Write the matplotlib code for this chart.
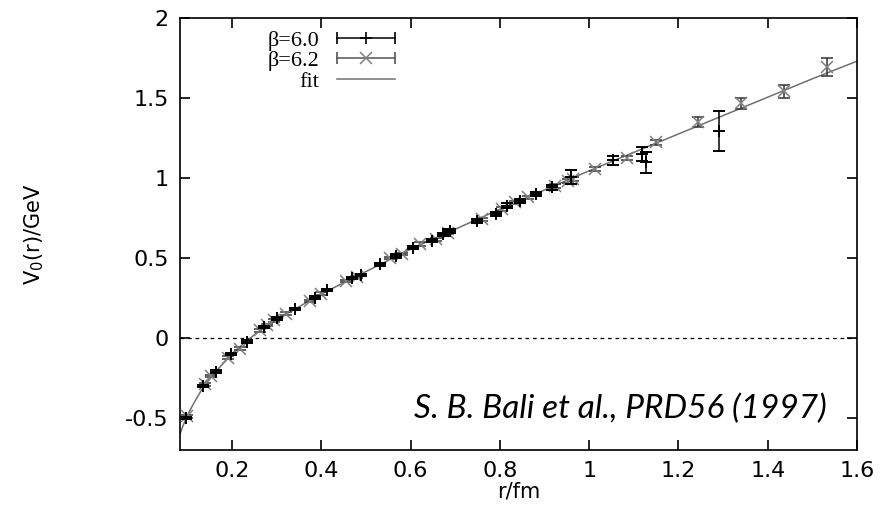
import numpy as np
import matplotlib
matplotlib.use("Agg")
import matplotlib.pyplot as plt
from matplotlib.lines import Line2D
from matplotlib.legend_handler import HandlerLine2D, HandlerTuple
from matplotlib.ticker import FormatStrFormatter

plt.rcParams["axes.unicode_minus"] = False
plt.rcParams["mathtext.default"] = "regular"

# beta = 6.0 points (r in fm, V0 in GeV)
r_b60 = [0.097, 0.135, 0.164, 0.198, 0.233, 0.271, 0.301, 0.340, 0.385, 0.412,
         0.468, 0.490, 0.531, 0.568, 0.606, 0.647, 0.673, 0.688, 0.748, 0.792,
         0.815, 0.845, 0.882, 0.916, 0.960, 1.054, 1.119, 1.128, 1.291]
v_b60 = [-0.500, -0.300, -0.210, -0.100, -0.023, 0.069, 0.123, 0.180, 0.252, 0.299,
         0.374, 0.394, 0.461, 0.513, 0.565, 0.607, 0.649, 0.670, 0.733, 0.775,
         0.827, 0.858, 0.900, 0.941, 1.005, 1.110, 1.150, 1.098, 1.292]
e_b60 = [0.008, 0.008, 0.008, 0.008, 0.008, 0.008, 0.008, 0.008, 0.008, 0.008,
         0.008, 0.008, 0.008, 0.010, 0.010, 0.010, 0.010, 0.012, 0.012, 0.015,
         0.015, 0.012, 0.015, 0.015, 0.045, 0.030, 0.046, 0.065, 0.125]

# beta = 6.2 points
r_b62 = [0.100, 0.139, 0.153, 0.191, 0.217, 0.262, 0.279, 0.295, 0.321, 0.374,
         0.400, 0.456, 0.479, 0.553, 0.580, 0.621, 0.658, 0.684, 0.759, 0.804,
         0.834, 0.863, 0.923, 0.953, 0.964, 1.013, 1.084, 1.150, 1.244, 1.341,
         1.437, 1.532]
v_b62 = [-0.490, -0.290, -0.238, -0.123, -0.067, 0.048, 0.081, 0.110, 0.152, 0.232,
         0.277, 0.357, 0.382, 0.499, 0.524, 0.587, 0.618, 0.659, 0.743, 0.806,
         0.847, 0.879, 0.952, 0.983, 0.994, 1.056, 1.125, 1.223, 1.348, 1.467,
         1.542, 1.693]
e_b62 = [0.008, 0.008, 0.008, 0.008, 0.008, 0.008, 0.008, 0.008, 0.008, 0.008,
         0.008, 0.008, 0.008, 0.008, 0.008, 0.010, 0.010, 0.010, 0.010, 0.010,
         0.010, 0.010, 0.012, 0.012, 0.012, 0.010, 0.012, 0.015, 0.031, 0.033,
         0.042, 0.058]

# fit curve
r_fit = [0.0835, 0.090, 0.100, 0.110, 0.120, 0.130, 0.140, 0.155, 0.170, 0.185,
         0.200, 0.225, 0.250, 0.275, 0.300, 0.350, 0.400, 0.450, 0.500, 0.600,
         0.700, 0.800, 0.900, 1.000, 1.100, 1.200, 1.300, 1.400, 1.500, 1.600]
v_fit = [-0.600, -0.550, -0.485, -0.430, -0.380, -0.333, -0.290, -0.238, -0.190, -0.145,
         -0.100, -0.037, 0.020, 0.070, 0.115, 0.195, 0.275, 0.345, 0.415, 0.555,
         0.680, 0.805, 0.925, 1.045, 1.160, 1.275, 1.390, 1.505, 1.620, 1.730]

x_ticks = [0.2, 0.4, 0.6, 0.8, 1.0, 1.2, 1.4, 1.6]
y_ticks = [-0.5, 0, 0.5, 1, 1.5, 2]

fig = plt.figure(figsize=(8.93, 5.08), dpi=100)
ax = fig.add_axes([0.2016, 0.1142, 0.7581, 0.8504])

ax.axhline(0, color="black", lw=0.9, ls=(0, (3, 3)), zorder=1)
fit_line, = ax.plot(r_fit, v_fit, color="#707070", lw=1.1, zorder=2)

ax.errorbar(r_b62, v_b62, yerr=e_b62, fmt="x", ms=8.5, mew=1.1, color="#808080",
            ecolor="#333333", elinewidth=1.1, capsize=4.5, capthick=1.1, zorder=3)
ax.errorbar(r_b60, v_b60, yerr=e_b60, fmt="+", ms=8.5, mew=1.4, color="black",
            ecolor="black", elinewidth=1.1, capsize=4.5, capthick=1.4, zorder=4)

ax.set_xlim(0.0835, 1.6)
ax.set_ylim(-0.7, 2.0)
ax.set_xticks(x_ticks)
ax.set_yticks(y_ticks)
ax.xaxis.set_major_formatter(FormatStrFormatter("%g"))
ax.yaxis.set_major_formatter(FormatStrFormatter("%g"))
ax.tick_params(direction="in", length=7, width=1.2, top=True, right=True,
               labelsize=16, pad=8)
for s in ax.spines.values():
    s.set_linewidth(1.2)

ax.set_xlabel("r/fm", fontsize=15, labelpad=0)
ax.set_ylabel(r"V$_0$(r)/GeV", fontsize=15)
ax.yaxis.set_label_coords(-0.198, 0.5)

# legend handles in gnuplot style
cap60 = Line2D([], [], color="black", lw=1.1, marker="|", ms=9, mew=1.2)
pt60 = Line2D([], [], ls="none", color="black", marker="+", ms=9, mew=1.2)
cap62 = Line2D([], [], color="#555555", lw=1.1, marker="|", ms=9, mew=1.2)
pt62 = Line2D([], [], ls="none", color="#808080", marker="x", ms=9, mew=1.1)
hmap = {cap60: HandlerLine2D(numpoints=2, marker_pad=0),
        cap62: HandlerLine2D(numpoints=2, marker_pad=0),
        pt60: HandlerLine2D(numpoints=1),
        pt62: HandlerLine2D(numpoints=1),
        tuple: HandlerTuple(ndivide=1)}
leg = ax.legend([(cap60, pt60), (cap62, pt62), fit_line],
                ["\u03b2=6.0", "\u03b2=6.2", "fit"],
                handler_map=hmap, loc="upper right", bbox_to_anchor=(0.34, 1.008),
                frameon=False, markerfirst=False, handlelength=2.6,
                labelspacing=0.0, handletextpad=0.8, borderpad=0.2,
                prop={"family": "Liberation Serif", "size": 16})

ax.text(0.955, 0.095, "S. B. Bali et al., PRD56 (1997)", transform=ax.transAxes,
        ha="right", va="center", fontsize=24, style="italic", family="Lato")

fig.savefig("out.png", dpi=100)
